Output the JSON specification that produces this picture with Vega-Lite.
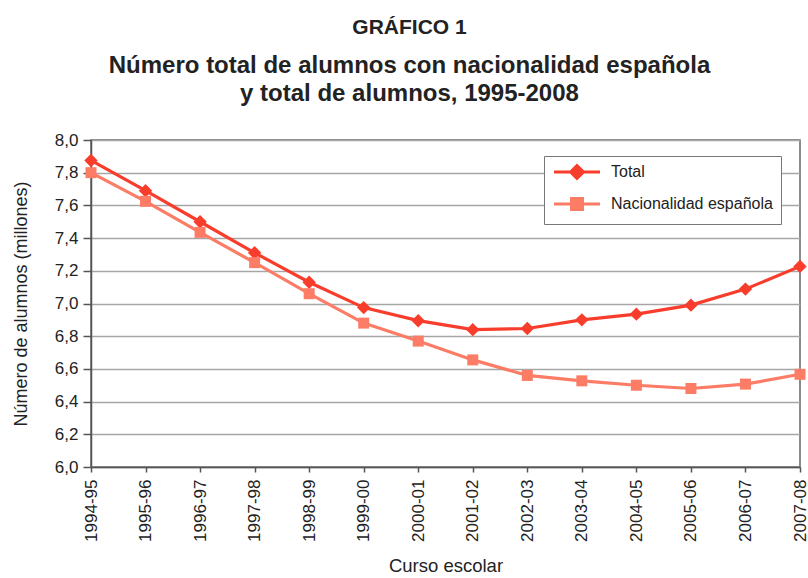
{
  "$schema": "https://vega.github.io/schema/vega-lite/v6.json",
  "width": 709,
  "height": 327,
  "autosize": {"type": "none"},
  "padding": {"left": 91, "top": 140, "right": 8, "bottom": 111},
  "background": "white",
  "config": {"view": {"stroke": "#666", "strokeWidth": 1.5}, "font": "Liberation Sans"},
  "title": {
    "text": "GRÁFICO 1",
    "subtitle": ["Número total de alumnos con nacionalidad española", "y total de alumnos, 1995-2008"],
    "anchor": "middle",
    "frame": "group",
    "dx": -36,
    "font": "Liberation Sans",
    "fontSize": 21,
    "fontWeight": "bold",
    "color": "#222",
    "subtitleFont": "Liberation Sans",
    "subtitleFontSize": 24,
    "subtitleFontWeight": "bold",
    "subtitleColor": "#222",
    "subtitleLineHeight": 28,
    "subtitlePadding": 16,
    "offset": 25
  },
  "data": {
    "values": [
      {"curso": "1994-95", "serie": "Total", "valor": 7.875},
      {"curso": "1995-96", "serie": "Total", "valor": 7.69},
      {"curso": "1996-97", "serie": "Total", "valor": 7.5},
      {"curso": "1997-98", "serie": "Total", "valor": 7.31},
      {"curso": "1998-99", "serie": "Total", "valor": 7.13},
      {"curso": "1999-00", "serie": "Total", "valor": 6.975},
      {"curso": "2000-01", "serie": "Total", "valor": 6.895},
      {"curso": "2001-02", "serie": "Total", "valor": 6.84},
      {"curso": "2002-03", "serie": "Total", "valor": 6.847},
      {"curso": "2003-04", "serie": "Total", "valor": 6.9},
      {"curso": "2004-05", "serie": "Total", "valor": 6.935},
      {"curso": "2005-06", "serie": "Total", "valor": 6.99},
      {"curso": "2006-07", "serie": "Total", "valor": 7.088},
      {"curso": "2007-08", "serie": "Total", "valor": 7.227},
      {"curso": "1994-95", "serie": "Nacionalidad española", "valor": 7.8},
      {"curso": "1995-96", "serie": "Nacionalidad española", "valor": 7.625},
      {"curso": "1996-97", "serie": "Nacionalidad española", "valor": 7.435},
      {"curso": "1997-98", "serie": "Nacionalidad española", "valor": 7.25},
      {"curso": "1998-99", "serie": "Nacionalidad española", "valor": 7.06},
      {"curso": "1999-00", "serie": "Nacionalidad española", "valor": 6.88},
      {"curso": "2000-01", "serie": "Nacionalidad española", "valor": 6.77},
      {"curso": "2001-02", "serie": "Nacionalidad española", "valor": 6.655},
      {"curso": "2002-03", "serie": "Nacionalidad española", "valor": 6.56},
      {"curso": "2003-04", "serie": "Nacionalidad española", "valor": 6.527},
      {"curso": "2004-05", "serie": "Nacionalidad española", "valor": 6.5},
      {"curso": "2005-06", "serie": "Nacionalidad española", "valor": 6.48},
      {"curso": "2006-07", "serie": "Nacionalidad española", "valor": 6.507},
      {"curso": "2007-08", "serie": "Nacionalidad española", "valor": 6.567}
    ]
  },
  "encoding": {
    "x": {
      "field": "curso",
      "type": "ordinal",
      "sort": null,
      "scale": {"type": "point", "padding": 0},
      "axis": {
        "title": "Curso escolar",
        "labelAngle": 270,
        "labelFontSize": 17,
        "labelColor": "#222",
        "labelPadding": 7,
        "tickSize": 5,
        "tickColor": "#555",
        "tickWidth": 1.5,
        "domainColor": "#555",
        "domainWidth": 1.5,
        "grid": false,
        "titleFontSize": 18.5,
        "titleFontWeight": "normal",
        "titleColor": "#222",
        "titlePadding": 15
      }
    },
    "y": {
      "field": "valor",
      "type": "quantitative",
      "scale": {"domain": [6, 8], "zero": false, "nice": false},
      "axis": {
        "title": "Número de alumnos (millones)",
        "values": [6, 6.2, 6.4, 6.6, 6.8, 7, 7.2, 7.4, 7.6, 7.8, 8],
        "labelExpr": "replace(format(datum.value, '.1f'), '.', ',')",
        "labelFontSize": 17,
        "labelColor": "#222",
        "labelPadding": 5,
        "tickSize": 8,
        "tickColor": "#555",
        "tickWidth": 1.5,
        "domainColor": "#555",
        "domainWidth": 1.5,
        "grid": true,
        "gridColor": "#a6a6a6",
        "gridWidth": 1.5,
        "titleFontSize": 18,
        "titleFontWeight": "normal",
        "titleColor": "#222",
        "titlePadding": 24
      }
    },
    "color": {
      "field": "serie",
      "type": "nominal",
      "scale": {"domain": ["Total", "Nacionalidad española"], "range": ["#f93d2c", "#fc7c66"]},
      "legend": {
        "orient": "none",
        "legendX": 453,
        "legendY": 16,
        "title": null,
        "direction": "vertical",
        "padding": 8,
        "strokeColor": "#777",
        "fillColor": "white",
        "labelFontSize": 16,
        "labelColor": "#222",
        "labelLimit": 400,
        "symbolSize": 169,
        "symbolOffset": 17,
        "labelOffset": 26,
        "rowPadding": 7,
        "encode": {
          "symbols": {
            "update": {
              "shape": {"signal": "datum.value === 'Total' ? 'M-3.54,0H3.54M-1,0L0,-1L1,0L0,1Z' : 'M-3.54,0H3.54M-0.85,-0.85H0.85V0.85H-0.85Z'"},
              "fill": {"signal": "datum.value === 'Total' ? '#f93d2c' : '#fc7c66'"},
              "stroke": {"signal": "datum.value === 'Total' ? '#f93d2c' : '#fc7c66'"},
              "strokeWidth": {"value": 3},
              "opacity": {"value": 1}
            }
          }
        }
      }
    }
  },
  "layer": [
    {"mark": {"type": "line", "strokeWidth": 3.2}},
    {
      "transform": [{"filter": "datum.serie === 'Total'"}],
      "mark": {"type": "point", "shape": "diamond", "filled": true, "size": 180, "opacity": 1}
    },
    {
      "transform": [{"filter": "datum.serie !== 'Total'"}],
      "mark": {"type": "point", "shape": "square", "filled": true, "size": 121, "opacity": 1}
    }
  ]
}
